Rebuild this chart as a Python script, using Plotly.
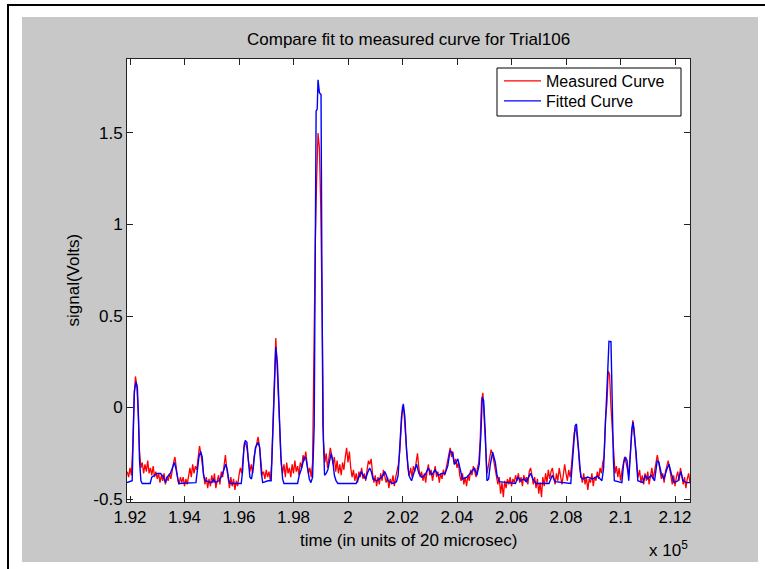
import plotly.graph_objects as go

# ---------------- data ----------------
# measured curve: sampled every 50 time units starting at 191900
t_start = 191900
t_step = 50
measured = [
    -0.35, -0.38, -0.33, -0.37, -0.22, 0.05, 0.17, 0.12, -0.02, -0.24, -0.33, -0.30, -0.36, -0.31, -0.35, -0.29, -0.36, -0.33, -0.37, -0.32,
    -0.38, -0.35, -0.39, -0.36, -0.41, -0.37, -0.40, -0.36, -0.42, -0.38, -0.40, -0.36, -0.39, -0.33, -0.30, -0.27, -0.35, -0.39, -0.42, -0.38,
    -0.41, -0.38, -0.43, -0.39, -0.42, -0.37, -0.33, -0.38, -0.31, -0.36, -0.32, -0.34, -0.27, -0.21, -0.25, -0.30, -0.37, -0.42, -0.38, -0.44,
    -0.39, -0.43, -0.37, -0.41, -0.36, -0.44, -0.40, -0.37, -0.42, -0.35, -0.38, -0.30, -0.26, -0.33, -0.40, -0.44, -0.38, -0.43, -0.39, -0.45,
    -0.40, -0.43, -0.37, -0.33, -0.36, -0.28, -0.19, -0.20, -0.23, -0.30, -0.35, -0.31, -0.36, -0.27, -0.23, -0.19, -0.16, -0.21, -0.30, -0.37,
    -0.35, -0.39, -0.34, -0.38, -0.35, -0.40, -0.30, -0.05, 0.17, 0.38, 0.22, 0.02, -0.18, -0.31, -0.36, -0.31, -0.38, -0.30, -0.36, -0.33,
    -0.38, -0.31, -0.36, -0.29, -0.35, -0.32, -0.37, -0.30, -0.33, -0.26, -0.29, -0.24, -0.31, -0.36, -0.33, -0.38, -0.30, 0.35, 0.90, 1.25,
    1.50, 1.42, 1.10, 0.52, -0.18, -0.30, -0.25, -0.33, -0.27, -0.22, -0.26, -0.31, -0.27, -0.35, -0.29, -0.36, -0.31, -0.37, -0.30, -0.34,
    -0.27, -0.22, -0.30, -0.24, -0.33, -0.38, -0.34, -0.40, -0.36, -0.41, -0.35, -0.38, -0.33, -0.39, -0.36, -0.40, -0.34, -0.29, -0.31, -0.28,
    -0.36, -0.41, -0.37, -0.43, -0.38, -0.42, -0.36, -0.40, -0.34, -0.37, -0.41, -0.38, -0.44, -0.39, -0.42, -0.37, -0.43, -0.38, -0.35, -0.31,
    -0.24, -0.08, 0.01, -0.02, -0.12, -0.22, -0.33, -0.37, -0.33, -0.38, -0.32, -0.35, -0.30, -0.25, -0.33, -0.38, -0.35, -0.40, -0.36, -0.41,
    -0.35, -0.31, -0.37, -0.34, -0.40, -0.35, -0.32, -0.38, -0.35, -0.41, -0.36, -0.39, -0.34, -0.37, -0.33, -0.29, -0.25, -0.22, -0.27, -0.24,
    -0.31, -0.28, -0.33, -0.30, -0.37, -0.40, -0.36, -0.42, -0.38, -0.43, -0.37, -0.40, -0.34, -0.37, -0.32, -0.35, -0.38, -0.33, -0.30, -0.18,
    0.04, 0.08, -0.05, -0.20, -0.36, -0.32, -0.28, -0.23, -0.25, -0.29, -0.34, -0.38, -0.42, -0.38, -0.47, -0.41, -0.49, -0.40, -0.44, -0.39,
    -0.42, -0.38, -0.43, -0.39, -0.41, -0.37, -0.40, -0.36, -0.41, -0.38, -0.43, -0.37, -0.40, -0.38, -0.42, -0.35, -0.33, -0.37, -0.42, -0.38,
    -0.44, -0.39, -0.47, -0.41, -0.49, -0.38, -0.43, -0.36, -0.41, -0.34, -0.39, -0.35, -0.33, -0.38, -0.42, -0.36, -0.40, -0.33, -0.38, -0.42,
    -0.37, -0.31, -0.36, -0.40, -0.34, -0.38, -0.32, -0.24, -0.14, -0.11, -0.15, -0.22, -0.33, -0.37, -0.41, -0.36, -0.42, -0.38, -0.45, -0.39,
    -0.41, -0.36, -0.43, -0.38, -0.40, -0.35, -0.39, -0.33, -0.36, -0.30, -0.27, -0.06, 0.02, 0.20, 0.18, 0.00, -0.13, -0.30, -0.36, -0.32,
    -0.38, -0.33, -0.40, -0.35, -0.31, -0.27, -0.30, -0.34, -0.37, -0.27, -0.14, -0.07, -0.12, -0.23, -0.33, -0.38, -0.34, -0.41, -0.37, -0.42,
    -0.36, -0.40, -0.35, -0.42, -0.37, -0.33, -0.39, -0.35, -0.31, -0.26, -0.30, -0.35, -0.39, -0.36, -0.41, -0.35, -0.32, -0.29, -0.33, -0.38,
    -0.42, -0.37, -0.43, -0.38, -0.35, -0.40, -0.33, -0.37, -0.42, -0.38, -0.44, -0.39, -0.36, -0.41,
]
t_measured = [t_start + t_step * i for i in range(len(measured))]

# fitted curve: breakpoints (time, volts)
fit_t = [
    191890, 192050, 192080, 192110, 192160, 192220, 192270, 192310, 192350, 192400,
    192450, 192740, 192800, 192900, 193000, 193120, 193230, 193300, 193360, 193480,
    193580, 193630, 193680, 193730, 193790, 194420, 194480, 194530, 194590, 194650,
    194700, 194760, 195000, 195070, 195130, 195260, 195380, 195450, 195510, 195570,
    195630, 195680, 196080, 196130, 196180, 196230, 196290, 196340, 196400, 196460,
    196530, 196600, 196700, 196760, 196820, 196870, 197060, 197180, 197230, 197290,
    197350, 197410, 197470, 197535, 197600, 197650, 198150, 198210, 198280, 198350,
    198400, 198460, 198520, 198580, 198640, 198700, 198760, 198800, 198830, 198870,
    198900, 198950, 199010, 199040, 199080, 199140, 199200, 199260, 199320, 199380,
    199440, 199500, 199560, 199630, 200300, 200425, 200487, 200548, 200646, 200734,
    200795, 200856, 200918, 201040, 201163, 201286, 201347, 201409, 201470, 201655,
    201779, 201840, 201901, 201963, 202030, 202086, 202148, 202233, 202332, 202455,
    202516, 202601, 202701, 202824, 202947, 203070, 203193, 203316, 203439, 203562,
    203660, 203746, 203833, 203907, 203968, 204029, 204115, 204201, 204362, 204546,
    204645, 204730, 204816, 204878, 204927, 204976, 205037, 205099, 205161, 205222,
    205308, 205406, 205468, 205554, 206144, 206243, 206329, 206452, 206539, 206698,
    206821, 206908, 207375, 207498, 207597, 208175, 208236, 208273, 208335, 208384,
    208446, 208495, 208544, 208630, 208790, 208974, 209159, 209318, 209380, 209428,
    209480, 209527, 209576, 209650, 209675, 209700, 209737, 209774, 210050, 210118,
    210180, 210241, 210302, 210364, 210413, 210462, 210512, 210573, 210635, 210820,
    210905, 211004, 211127, 211250, 211346, 211409, 211495, 211594, 211693, 211778,
    211864, 211963, 212110, 212209, 212295, 212418, 212550,
]
fit_v = [
    -0.41, -0.405, -0.40, -0.20, 0.09, 0.14, 0.11, -0.05, -0.29, -0.40,
    -0.415, -0.415, -0.38, -0.37, -0.36, -0.36, -0.38, -0.41, -0.38, -0.36,
    -0.32, -0.30, -0.33, -0.38, -0.415, -0.41, -0.32, -0.27, -0.24, -0.27,
    -0.37, -0.40, -0.41, -0.39, -0.41, -0.40, -0.37, -0.34, -0.31, -0.34,
    -0.40, -0.415, -0.415, -0.35, -0.22, -0.18, -0.19, -0.28, -0.38, -0.39,
    -0.32, -0.22, -0.19, -0.22, -0.36, -0.41, -0.40, -0.40, -0.18, 0.09,
    0.33, 0.24, -0.02, -0.26, -0.39, -0.415, -0.415, -0.37, -0.34, -0.29,
    -0.27, -0.28, -0.34, -0.39, -0.41, -0.38, -0.10, 0.70, 1.62, 1.63,
    1.79, 1.72, 1.71, 0.80, -0.10, -0.37, -0.36, -0.34, -0.29, -0.25,
    -0.29, -0.37, -0.40, -0.415, -0.415, -0.37, -0.35, -0.37, -0.39, -0.35,
    -0.33, -0.35, -0.39, -0.40, -0.39, -0.37, -0.35, -0.37, -0.40, -0.415,
    -0.405, -0.37, -0.235, -0.05, 0.02, -0.05, -0.235, -0.37, -0.40, -0.344,
    -0.31, -0.36, -0.38, -0.37, -0.33, -0.37, -0.34, -0.37, -0.36, -0.36,
    -0.32, -0.235, -0.25, -0.31, -0.30, -0.28, -0.34, -0.39, -0.38, -0.35,
    -0.33, -0.37, -0.31, -0.14, 0.056, 0.04, -0.135, -0.40, -0.39, -0.31,
    -0.244, -0.30, -0.37, -0.405, -0.415, -0.38, -0.40, -0.39, -0.405, -0.36,
    -0.40, -0.415, -0.415, -0.37, -0.405, -0.415, -0.29, -0.22, -0.10, -0.09,
    -0.19, -0.31, -0.38, -0.39, -0.38, -0.39, -0.375, -0.40, -0.33, -0.15,
    0.00, 0.185, 0.362, 0.36, 0.185, -0.126, -0.27, -0.40, -0.41, -0.30,
    -0.27, -0.29, -0.40, -0.25, -0.12, -0.08, -0.15, -0.25, -0.40, -0.41,
    -0.37, -0.39, -0.37, -0.40, -0.29, -0.30, -0.36, -0.39, -0.34, -0.31,
    -0.36, -0.41, -0.40, -0.35, -0.40, -0.41, -0.41,
]

x_tickvals = [192000, 194000, 196000, 198000, 200000, 202000, 204000, 206000, 208000, 210000, 212000]
x_ticktext = ["1.92", "1.94", "1.96", "1.98", "2", "2.02", "2.04", "2.06", "2.08", "2.1", "2.12"]
y_tickvals = [-0.5, 0, 0.5, 1, 1.5]
y_ticktext = ["-0.5", "0", "0.5", "1", "1.5"]
x_range = [191890, 212550]
y_range = [-0.516, 1.904]

title_text = "Compare fit to measured curve for Trial106"
xlabel = "time (in units of 20 microsec)"
ylabel = "signal(Volts)"
series_names = ["Measured Curve", "Fitted Curve"]

# ---------------- layout geometry (pixels) ----------------
W, H = 765, 569
L, R, T, B = 127, 690, 59, 502
FONT = "Liberation Sans, Arial, sans-serif"
FS = 17
FS_LEG = 16
GRAY = "#c8c8c8"


def px(x):
    return (x - L) / (R - L)


def py(y):
    return (B - y) / (B - T)


fig = go.Figure()
fig.add_trace(go.Scatter(x=t_measured, y=measured, mode="lines", name=series_names[0],
                         line=dict(color="#ff0000", width=1.3), legend="legend"))
fig.add_trace(go.Scatter(x=fit_t, y=fit_v, mode="lines", name=series_names[1],
                         line=dict(color="#0000ff", width=1.4), legend="legend2"))

shapes = [
    dict(type="rect", xref="paper", yref="paper", x0=px(22), x1=px(758), y0=py(562), y1=py(17),
         fillcolor=GRAY, line=dict(width=0), layer="below"),
    dict(type="rect", xref="paper", yref="paper", x0=0, x1=1, y0=0, y1=1,
         fillcolor="white", line=dict(width=0), layer="below"),
    dict(type="line", xref="paper", yref="paper", x0=px(7), x1=px(766), y0=py(5), y1=py(5),
         line=dict(color="black", width=2), layer="below"),
    dict(type="line", xref="paper", yref="paper", x0=px(8), x1=px(8), y0=py(4), y1=py(570),
         line=dict(color="black", width=2), layer="below"),
    # legend box
    dict(type="rect", xref="paper", yref="paper", x0=px(497), x1=px(681), y0=py(116), y1=py(68),
         fillcolor="white", line=dict(color="black", width=1), layer="below"),
]

axis_common = dict(showline=True, linecolor="#222222", linewidth=1, mirror="ticks",
                   ticks="inside", ticklen=6, tickcolor="#222222", showgrid=False,
                   zeroline=False, tickfont=dict(family=FONT, size=FS, color="black"))

leg_common = dict(xanchor="left", yanchor="middle", bgcolor="rgba(0,0,0,0)", borderwidth=0,
                  font=dict(family=FONT, size=FS_LEG, color="black"), itemwidth=37)

fig.update_layout(
    width=W, height=H,
    margin=dict(l=L, r=W - R, t=T, b=H - B, pad=0),
    paper_bgcolor="white", plot_bgcolor="white",
    showlegend=True,
    legend=dict(x=px(499), y=py(81), **leg_common),
    legend2=dict(x=px(499), y=py(101), **leg_common),
    xaxis=dict(range=x_range, tickvals=x_tickvals, ticktext=x_ticktext, **axis_common),
    yaxis=dict(range=y_range, tickvals=y_tickvals, ticktext=y_ticktext, **axis_common),
    shapes=shapes,
    annotations=[
        dict(text=title_text, xref="paper", yref="paper", x=0.5, y=py(40), showarrow=False,
             xanchor="center", yanchor="middle", font=dict(family=FONT, size=FS, color="black")),
        dict(text=xlabel, xref="paper", yref="paper", x=0.5, y=py(540), showarrow=False,
             xanchor="center", yanchor="middle", font=dict(family=FONT, size=FS, color="black")),
        dict(text=ylabel, xref="paper", yref="paper", x=px(73), y=0.5, showarrow=False,
             textangle=-90, xanchor="center", yanchor="middle",
             font=dict(family=FONT, size=FS, color="black")),
        dict(text="x 10<sup>5</sup>", xref="paper", yref="paper", x=px(690), y=py(549),
             showarrow=False, xanchor="right", yanchor="middle",
             font=dict(family=FONT, size=FS, color="black")),
    ],
)

fig.write_html("out.html", config={"displayModeBar": False},
               post_script="document.body.style.margin='0';document.body.style.overflow='hidden';")
